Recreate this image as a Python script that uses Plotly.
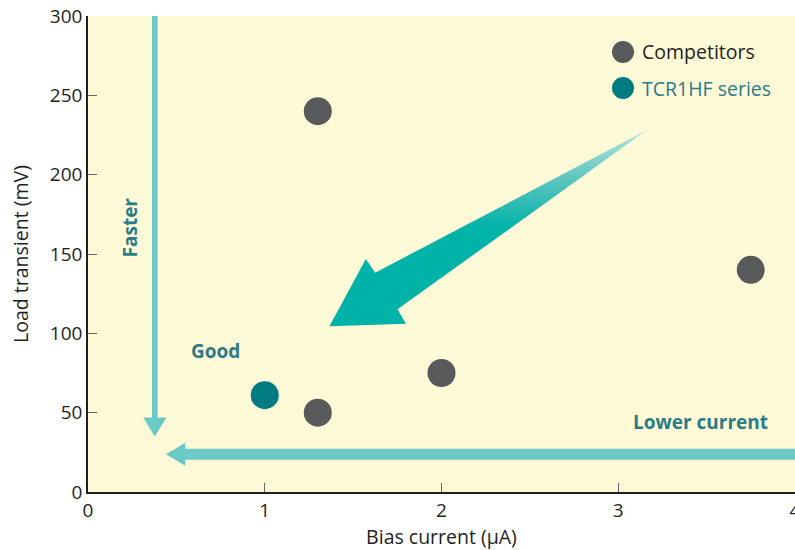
import plotly.graph_objects as go

# Measured devices: bias current (µA) vs load transient (mV)
competitor_current = [1.3, 3.75, 2.0, 1.3]
competitor_transient = [240, 140, 75, 50]
tcr_current = [1.0]
tcr_transient = [61]

x_ticks = [0, 1, 2, 3, 4]
y_ticks = [0, 50, 100, 150, 200, 250, 300]

# Decorative "improvement" arrow outline (data units)
big_arrow_x = [3.164, 1.625, 1.572, 1.366, 1.799, 1.751, 3.164]
big_arrow_y = [228.3, 138.2, 146.8, 104.5, 106.0, 115.1, 228.3]

GRAY = "#58595B"
TEAL = "#007B80"
LABEL_TEAL = "#2A7C86"
ARROW = "#6CCAC6"
INK = "#231F20"
FONT = "Open Sans"

fig = go.Figure()

fig.add_trace(go.Scatter(
    x=big_arrow_x, y=big_arrow_y, mode="lines", fill="toself",
    line=dict(width=0), hoverinfo="skip", showlegend=False,
    fillgradient=dict(type="vertical",
                      colorscale=[[0, "#00B2A8"], [0.5, "#00B3A9"],
                                  [0.75, "#5CC5BE"], [1, "#B9E6E2"]]),
))

fig.add_trace(go.Scatter(
    x=competitor_current, y=competitor_transient, mode="markers",
    marker=dict(size=28, color=GRAY), name="Competitors", showlegend=False,
))
fig.add_trace(go.Scatter(
    x=tcr_current, y=tcr_transient, mode="markers",
    marker=dict(size=28, color=TEAL), name="TCR1HF series", showlegend=False,
))

shapes = []
# Vertical "Faster" arrow
vx, vw, hw = 0.378, 0.032, 0.066
shapes.append(dict(type="path", xref="x", yref="y", line=dict(width=0), fillcolor=ARROW,
                   path=f"M {vx - vw/2} 300 L {vx + vw/2} 300 L {vx + vw/2} 47 L {vx + hw} 47 "
                        f"L {vx} 35 L {vx - hw} 47 L {vx - vw/2} 47 Z"))
# Horizontal "Lower current" arrow
hy, hh, hhh = 23.8, 3.5, 7.3
shapes.append(dict(type="path", xref="x", yref="y", line=dict(width=0), fillcolor=ARROW,
                   path=f"M 4 {hy + hh} L 0.55 {hy + hh} L 0.55 {hy + hhh} L 0.44 {hy} "
                        f"L 0.55 {hy - hhh} L 0.55 {hy - hh} L 4 {hy - hh} Z"))

# Legend swatches
legend_items = [("Competitors", GRAY, INK, 52), ("TCR1HF series", TEAL, LABEL_TEAL, 88)]
annotations = []
for label, mcolor, tcolor, py in legend_items:
    cx = (623 - 88) / 707
    cy = (492 - py) / 476
    rx, ry = 11 / 707, 11 / 476
    shapes.append(dict(type="circle", xref="paper", yref="paper",
                       x0=cx - rx, x1=cx + rx, y0=cy - ry, y1=cy + ry,
                       fillcolor=mcolor, line=dict(width=0)))
    annotations.append(dict(xref="paper", yref="paper", x=(640 - 88) / 707, y=cy,
                            xanchor="left", yanchor="middle", showarrow=False,
                            text=label, font=dict(family=FONT, size=19.5, color=tcolor)))

annotations += [
    dict(x=0.24, y=167, text="<b>Faster</b>", textangle=-90, showarrow=False,
         font=dict(family=FONT, size=19, color=LABEL_TEAL)),
    dict(x=0.72, y=89, text="<b>Good</b>", showarrow=False,
         font=dict(family=FONT, size=19, color=LABEL_TEAL)),
    dict(x=3.465, y=44, text="<b>Lower current</b>", showarrow=False,
         font=dict(family=FONT, size=19, color=LABEL_TEAL)),
]

fig.update_layout(
    width=795, height=550,
    margin=dict(l=88, r=0, t=16, b=58),
    paper_bgcolor="white", plot_bgcolor="#FEF9D7",
    shapes=shapes, annotations=annotations,
    font=dict(family=FONT, color=INK, size=19),
    showlegend=False,
)
fig.update_xaxes(
    range=[0, 4], tickvals=x_ticks, ticks="inside", ticklen=9, tickcolor="#666",
    showline=True, linecolor=INK, linewidth=1.5, showgrid=False, zeroline=False,
    tickfont=dict(size=19, color=INK), ticklabeloverflow="allow", automargin=False,
    title=dict(text="Bias current (µA)", font=dict(size=19.5, color=INK), standoff=13),
)
fig.update_yaxes(
    range=[0, 300], tickvals=y_ticks, ticks="inside", ticklen=9, tickcolor="#666",
    showline=True, linecolor=INK, linewidth=1.5, showgrid=False, zeroline=False,
    tickfont=dict(size=19, color=INK), automargin=False,
    title=dict(text="Load transient (mV)", font=dict(size=19.5, color=INK), standoff=16),
)

fig.write_html("out.html")
